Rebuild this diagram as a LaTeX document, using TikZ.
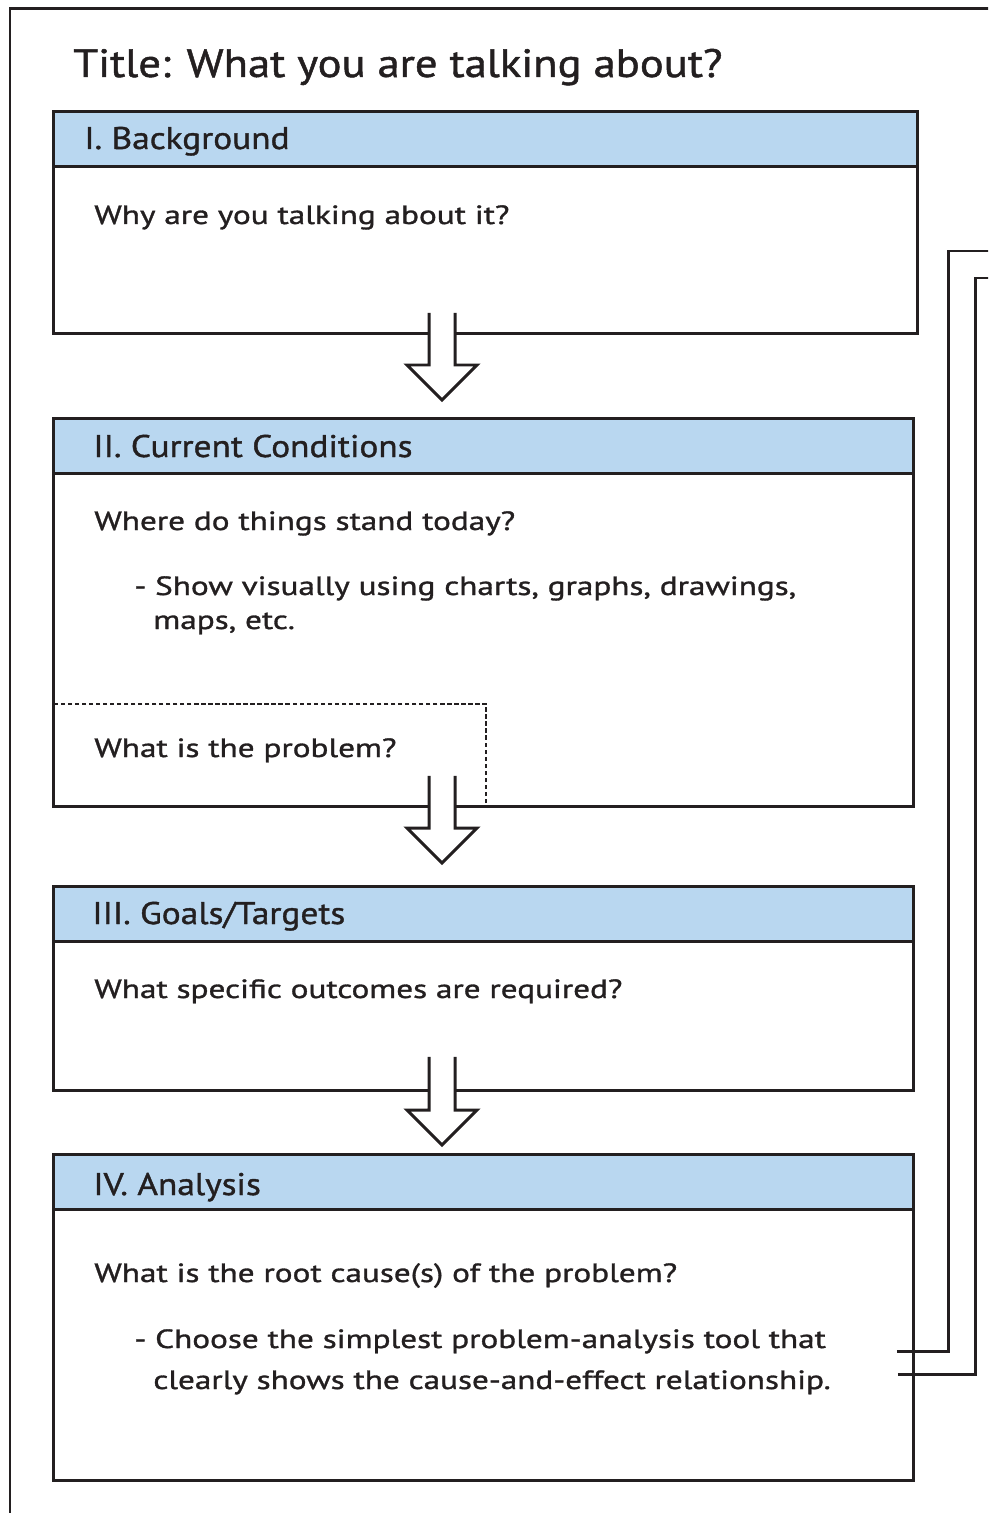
\documentclass[tikz,border=0pt]{standalone}
\usepackage{fontspec}
\setmainfont{PT Sans}
\newfontfamily\headfont{PT Sans}[FakeStretch=1.13, FakeBold=1.2]
\newfontfamily\bodyfont{PT Sans}[FakeStretch=1.26, FakeBold=1.2]
\usetikzlibrary{positioning, calc}
\definecolor{ink}{HTML}{231F20}
\definecolor{headblue}{HTML}{B9D7F0}
\tikzset{
x=0.02cm, y=-0.02cm, % one unit is one pixel of the sheet, y runs down
box/.style={draw=ink, fill=white, line width=1.7pt, inner sep=0pt, anchor=north west}, % a section box
head/.style={box, fill=headblue, minimum height=1.1cm}, % the blue strip on top of a box
headtext/.style={anchor=base west, text=ink, inner sep=0pt, font=\headfont\fontsize{17.8}{21}\selectfont},
bodytext/.style={anchor=base west, text=ink, inner sep=0pt, font=\bodyfont\fontsize{15}{18}\selectfont},
probbox/.style={draw=ink, line width=1.1pt, dash pattern=on 2.5pt off 1.5pt, inner sep=0pt, anchor=north west},
blockarrow/.style={draw=ink, fill=white, line width=1.7pt, line join=miter},
loopline/.style={draw=ink, line width=1.7pt},
}
% hollow arrow from the top of its shaft (#1) to its tip (#2)
\newcommand{\bigarrow}[2]{%
  \filldraw[blockarrow] ($(#1)+(-13,0)$) -- ($(#2)+(-13,-35)$) -- ($(#2)+(-35,-35)$)
    -- (#2) -- ($(#2)+(35,-35)$) -- ($(#2)+(13,-35)$) -- ($(#1)+(13,0)$);
}
\begin{document}
\begin{tikzpicture}
    \useasboundingbox (0,0) rectangle (988,1513);
    \clip (0,0) rectangle (988,1513);
    \draw[loopline] (10,1530) |- (1000,9);

    \node[headtext, font=\headfont\fontsize{22.5}{26}\selectfont] (title) at (73,77) {Title: What you are talking about?};

    % I
    \node[box, minimum width=17.28cm, minimum height=4.44cm] (bg) at (52,110) {};
    \node[head, minimum width=17.28cm] (bghead) at (bg.north west) {};
    \node[headtext] (bgname) at (84,149) {I. Background};
    \node[bodytext] (bgq) at (94,224) {Why are you talking about it?};

    % II
    \node[box, minimum width=17.2cm, minimum height=7.76cm] (cc) at (52,417) {};
    \node[head, minimum width=17.2cm] (cchead) at (cc.north west) {};
    \node[headtext] (ccname) at (93,457) {II. Current Conditions};
    \node[bodytext] (ccq) at (94,530) {Where do things stand today?};
    \node[bodytext] (ccnote) at (134,595) {- Show visually using charts, graphs, drawings,};
    \node[bodytext] (ccnote2) at (153,629) {maps, etc.};
    \node[probbox, minimum width=8.66cm, minimum height=2.04cm] (prob) at (52,703) {};
    \node[bodytext] (probq) at (94,757) {What is the problem?};

    % III
    \node[box, minimum width=17.2cm, minimum height=4.08cm] (gt) at (52,885) {};
    \node[head, minimum width=17.2cm] (gthead) at (gt.north west) {};
    \node[headtext] (gtname) at (92,924) {III. Goals/Targets};
    \node[bodytext] (gtq) at (94,998) {What specific outcomes are required?};

    % IV
    \node[box, minimum width=17.2cm, minimum height=6.52cm] (an) at (52,1153) {};
    \node[head, minimum width=17.2cm] (anhead) at (an.north west) {};
    \node[headtext] (anname) at (93,1195) {IV. Analysis};
    \node[bodytext] (anq) at (94,1282) {What is the root cause(s) of the problem?};
    \node[bodytext] (annote) at (134,1348) {- Choose the simplest problem-analysis tool that};
    \node[bodytext] (annote2) at (153,1389) {clearly shows the cause-and-effect relationship.};

    % arrows between the boxes
    \coordinate (ax) at (442,0);
    \bigarrow{$(ax |- bg.south)+(0,-22)$}{$(ax |- cc.north)+(0,-17)$}
    \bigarrow{$(ax |- cc.south)+(0,-32)$}{$(ax |- gt.north)+(0,-22)$}
    \bigarrow{$(ax |- gt.south)+(0,-35)$}{$(ax |- an.north)+(0,-8)$}

    % lines going back up from the analysis
    \coordinate (s1) at ($(an.north east)+(-18,198)$);
    \coordinate (s2) at ($(an.north east)+(-17,221)$);
    \coordinate (k1) at (948,251);
    \coordinate (k2) at (975,278);
    \coordinate (out1) at (1000,251);
    \coordinate (out2) at (1000,278);
    \draw[loopline] (s1) -| (k1) -- (out1);
    \draw[loopline] (s2) -| (k2) -- (out2);
\end{tikzpicture}
\end{document}
